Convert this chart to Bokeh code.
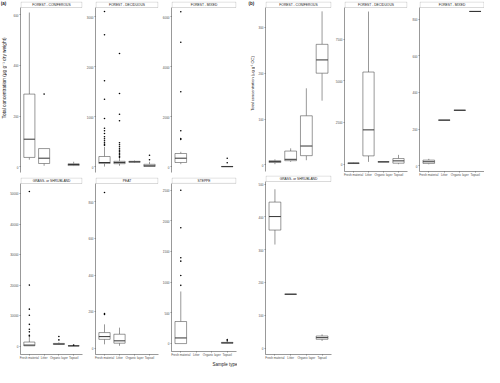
import numpy as np
from bokeh.plotting import figure
from bokeh.models import Range1d, FixedTicker, ColumnDataSource, BoxAnnotation, Label, Title
from bokeh.layouts import row, column
from bokeh.embed import file_html
from bokeh.resources import INLINE
from bokeh.core.properties import value

CATEGORIES = ["Fresh material", "Litter", "Organic layer", "Topsoil"]

# box statistics per category: (lower whisker, Q1, median, Q3, upper whisker); None = no samples
A_CONIFEROUS = [(28, 37, 109, 287, 609), (4, 13, 34, 72, 72), None, (3, 5, 9, 12, 20)]
A_CONIFEROUS_OUT = [[], [287], [], []]
A_CONIFEROUS_TICKS = [0, 200, 400, 600]

A_DECIDUOUS = [(5, 66, 86, 206, 400), (20, 62, 85, 110, 180), (80, 90, 100, 110, 125), (2, 6, 20, 50, 100)]
A_DECIDUOUS_OUT = [[3106, 2640, 1720, 1350, 966, 770, 720, 665, 600, 560, 520, 480, 450, 430],
                   [2266, 1466, 1052, 920, 480, 440, 400, 360, 330, 300, 270, 240, 210, 190],
                   [], [230, 140]]
A_DECIDUOUS_TICKS = [0, 1000, 2000, 3000]

A_MIXED = [(104, 172, 344, 532, 600), None, None, (0, 5, 8, 14, 20)]
A_MIXED_OUT = [[6200, 4980, 3000, 1440, 1130, 1090], [], [], [344, 160]]
A_MIXED_TICKS = [0, 2000, 4000, 6000]

A_GRASS = [(0, 60, 300, 1300, 3100), None, (350, 520, 650, 850, 1200), (0, 20, 50, 80, 150)]
A_GRASS_OUT = [[50700, 20000, 12100, 10100, 7100, 5500, 4650, 3550, 3300], [], [3100, 2000], [300]]
A_GRASS_TICKS = [0, 10000, 20000, 30000, 40000, 50000]

A_PEAT = [(22, 49, 64, 86, 131), (14, 28, 41, 77, 113), None, None]
A_PEAT_OUT = [[851, 190, 185], [], [], []]
A_PEAT_TICKS = [0, 200, 400, 600, 800]

A_STEPPE = [(0, 0, 92, 360, 850), None, None, (0, 5, 12, 20, 30)]
A_STEPPE_OUT = [[2500, 1890, 1400, 1345, 1110, 950], [], [], [65, 45]]
A_STEPPE_TICKS = [0, 500, 1000, 1500, 2000, 2500]

B_CONIFEROUS = [(1.3, 5, 7, 9, 12), (6.5, 9, 12, 30, 36), (10, 20, 41, 107, 167), (140, 200, 229, 263, 335)]
B_CONIFEROUS_TICKS = [0, 100, 200, 300]

B_DECIDUOUS = [(20, 40, 60, 80, 100), (140, 500, 2060, 5530, 9160), (140, 140, 140, 140, 140), (0, 60, 200, 340, 560)]
B_DECIDUOUS_TICKS = [0, 2500, 5000, 7500]

B_MIXED = [(8, 13, 22, 31, 38), (249, 249, 249, 249, 249), (303, 303, 303, 303, 303), (842, 842, 842, 842, 842)]
B_MIXED_TICKS = [0, 200, 400, 600, 800]

B_GRASS = [(316, 360, 401, 445, 484), (165, 165, 165, 165, 165), None, (23, 28, 33, 38, 43)]
B_GRASS_TICKS = [0, 100, 200, 300, 400, 500]

FONT = "Liberation Sans"
LINE = "#333333"
STRIP_PX = 6
X_LO, X_HI = 0.4, 4.6


def panel(stats, outs, ticks, yr, data_h, name, w, bl, br, bb, xaxis):
    h = 1 + STRIP_PX + data_h + bb
    per_px = (yr[1] - yr[0]) / data_h
    top = yr[1] + STRIP_PX * per_px
    p = figure(width=w, height=h, output_backend="svg", toolbar_location=None, title=None,
               x_range=Range1d(X_LO, X_HI), y_range=Range1d(yr[0], top),
               min_border_left=bl, min_border_right=br, min_border_top=1, min_border_bottom=bb,
               x_axis_location="below" if xaxis else None, y_axis_location="left")
    p.grid.visible = False
    p.outline_line_color = None
    p.background_fill_color = "white"
    p.border_fill_color = "white"

    xs, lo, q1, md, q3, hi = [], [], [], [], [], []
    ox, oy = [], []
    for i, s in enumerate(stats):
        if s is not None:
            xs.append(i + 1)
            lo.append(s[0]); q1.append(s[1]); md.append(s[2]); q3.append(s[3]); hi.append(s[4])
        if outs is not None:
            for v in outs[i]:
                ox.append(i + 1); oy.append(v)
    half = 0.375
    src = ColumnDataSource(dict(x=xs, lo=lo, q1=q1, md=md, q3=q3, hi=hi,
                                xl=[x - half for x in xs], xr=[x + half for x in xs]))
    p.segment(x0="x", y0="q3", x1="x", y1="hi", source=src, line_color=LINE, line_width=0.5)
    p.segment(x0="x", y0="lo", x1="x", y1="q1", source=src, line_color=LINE, line_width=0.5)
    p.vbar(x="x", width=2 * half, bottom="q1", top="q3", source=src,
           fill_color="white", line_color=LINE, line_width=0.5)
    p.segment(x0="xl", y0="md", x1="xr", y1="md", source=src, line_color=LINE, line_width=1.0)
    if ox:
        p.scatter(x=ox, y=oy, size=1.6, color="black", line_width=0)

    # facet strip drawn in the band above the data area
    xpx = (X_HI - X_LO) / (w - bl - br)
    p.add_layout(BoxAnnotation(left=X_LO + 0.5 * xpx, right=X_HI - 0.5 * xpx,
                               bottom=yr[1], top=top - 0.5 * per_px,
                               fill_color="white", fill_alpha=1.0,
                               line_color=LINE, line_width=0.6))
    p.add_layout(Label(x=(X_LO + X_HI) / 2, y=(yr[1] + top) / 2, text=name,
                       text_align="center", text_baseline="middle",
                       text_font=FONT, text_font_size="3.3px", text_color="#1a1a1a"))

    ya = p.yaxis[0]
    ya.ticker = FixedTicker(ticks=ticks)
    ya.bounds = (yr[0], yr[1])
    axes = [ya]
    if xaxis:
        xa = p.xaxis[0]
        xa.ticker = FixedTicker(ticks=list(range(1, len(CATEGORIES) + 1)))
        xa.major_label_overrides = {i + 1: c for i, c in enumerate(CATEGORIES)}
        axes.append(xa)
    for a in axes:
        a.major_label_text_font_size = "3px"
        a.major_label_text_font = FONT
        a.major_label_text_color = "#4d4d4d"
        a.axis_line_color = LINE
        a.axis_line_width = 0.5
        a.major_tick_line_color = LINE
        a.major_tick_line_width = 0.5
        a.major_tick_out = 1
        a.major_tick_in = 0
        a.minor_tick_line_color = None
        a.major_label_standoff = 1
    return p


def label_fig(w, h, items):
    f = figure(width=w, height=h, output_backend="svg", toolbar_location=None, title=None,
               x_range=Range1d(0, w), y_range=Range1d(0, h),
               min_border_left=0, min_border_right=0, min_border_top=0, min_border_bottom=0,
               x_axis_location=None, y_axis_location=None)
    f.grid.visible = False
    f.outline_line_color = None
    for (x, y, t, size, angle, style, align) in items:
        f.text(x=[x], y=[y], text=[t], angle=angle, text_align=align, text_baseline="middle",
               text_font=value(FONT), text_font_size=size, text_font_style=style, text_color="#1a1a1a")
    return f


H = 367

# ---- (a) ----
a_cols = []
specs_a = [
    (76, 10, 1, "FOREST - CONIFEROUS", A_CONIFEROUS, A_CONIFEROUS_OUT, A_CONIFEROUS_TICKS, (-22.5, 628.9),
     "GRASS- or SHRUBLAND", A_GRASS, A_GRASS_OUT, A_GRASS_TICKS, (-2790, 53348)),
    (76, 11, 1, "FOREST - DECIDUOUS", A_DECIDUOUS, A_DECIDUOUS_OUT, A_DECIDUOUS_TICKS, (-114, 3186),
     "PEAT", A_PEAT, A_PEAT_OUT, A_PEAT_TICKS, (-33.6, 899.9)),
    (78, 12, 1, "FOREST - MIXED", A_MIXED, A_MIXED_OUT, A_MIXED_TICKS, (-228, 6372),
     "STEPPE", A_STEPPE, A_STEPPE_OUT, A_STEPPE_TICKS, (-129, 2613)),
]
bottom_a = []
for (w, bl, br, n1, s1, o1, t1, r1, n2, s2, o2, t2, r2) in specs_a:
    top_p = panel(s1, o1, t1, r1, 165, n1, w, bl, br, 4, False)
    bot_p = panel(s2, o2, t2, r2, 171, n2, w, bl, br, 13, True)
    bottom_a.append(bot_p)
    a_cols.append(column(top_p, bot_p))

# overall x-axis title, placed below the STEPPE panel's axis
bottom_a[2].add_layout(Title(text="Sample type", align="left", offset=41, standoff=1,
                             text_font=FONT, text_font_size="4.5px", text_font_style="normal",
                             text_color="#1a1a1a"), "below")

lab_a = label_fig(7, H, [
    (0.3, H - 4, "(a)", "4.5px", 0, "bold", "left"),
    (3.5, H - 165, "Total concentration (μg g⁻¹ dry weight)", "4.8px", np.pi / 2, "normal", "center"),
])

# ---- (b) ----
b1 = column(
    panel(B_CONIFEROUS, None, B_CONIFEROUS_TICKS, (-14.6, 343.4), 164, "FOREST - CONIFEROUS", 77, 7, 1, 3, False),
    panel(B_GRASS, None, B_GRASS_TICKS, (-18.2, 507.6), 173, "GRASS- or SHRUBLAND", 77, 7, 1, 13, True),
)
b2 = panel(B_DECIDUOUS, None, B_DECIDUOUS_TICKS, (-438, 9402), 164, "FOREST - DECIDUOUS", 76, 10, 1, 196, True)
b3 = panel(B_MIXED, None, B_MIXED_TICKS, (-31.1, 863.5), 164, "FOREST - MIXED", 76, 11, 0, 196, True)

lab_b = label_fig(18, H, [
    (11, H - 4, "(b)", "4.5px", 0, "bold", "left"),
    (15, H - 177, "Total concentration (μg g⁻¹ OC)", "4px", np.pi / 2, "normal", "center"),
])

layout = row(lab_a, *a_cols, lab_b, b1, b2, b3)

open("out.html", "w").write(file_html(layout, INLINE))
